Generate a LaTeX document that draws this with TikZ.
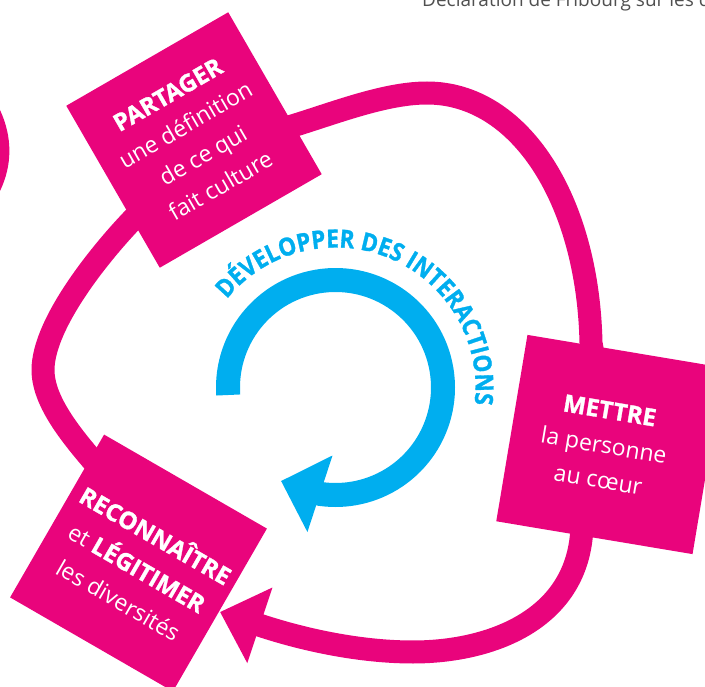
\documentclass[tikz,border=0pt]{standalone}
\usepackage{fontspec}
\setmainfont{Open Sans}
\newfontfamily\condfont[FakeStretch=0.9,FakeBold=1.2]{Open Sans}
\newfontfamily\heavyfont[FakeBold=1.2]{Open Sans}
\usetikzlibrary{arrows.meta,decorations.text,backgrounds}
\definecolor{pinkc}{RGB}{233,4,124}
\definecolor{bluec}{RGB}{0,174,239}
\definecolor{grayc}{RGB}{80,80,80}
\newcommand{\hv}[1]{{\heavyfont\bfseries\fontsize{24}{35}\selectfont #1}}
\begin{document}
\begin{tikzpicture}[x=1pt,y=1pt,
  sqbox/.style={fill=pinkc, inner sep=0pt, outer sep=0pt},
  sqtext/.style={text=white, align=center, inner sep=0pt, font=\fontsize{23}{35}\selectfont},
  loopline/.style={draw=pinkc, line width=23pt, line join=round},
  bluearc/.style={draw=bluec, line width=24pt}
]
\useasboundingbox (0,0) rectangle (705,-687);

% header (clipped at the top edge)
\node[anchor=base west, inner sep=0pt, text=grayc, font=\fontsize{19}{19}\selectfont] (hdr) at (422,-6.5) {Déclaration de Fribourg sur les droits culturels};

% squares
\node[sqbox, minimum size=187pt, rotate=30] (partager) at (194,-140) {};
\node[sqbox, minimum width=199pt, minimum height=189pt, rotate=-9.5] (mettre) at (610,-444.5) {};
\node[sqbox, minimum size=188pt, rotate=-30] (reconnaitre) at (138.5,-563) {};

\node[sqtext, rotate=30] (partagertxt) at (partager.center) {\hv{PARTAGER}\\une définition\\de ce qui\\fait culture};
\node[sqtext, rotate=-9.5] (mettretxt) at (604,-445) {\hv{METTRE}\\la personne\\au cœur};
\node[sqtext, rotate=-30, font=\fontsize{23}{37}\selectfont] (reconnaitretxt) at (138,-566) {\hv{RECONNAÎTRE}\\et \hv{LÉGITIMER}\\les diversités};

% pink loop behind the squares
\coordinate (rtip) at (220,-612);
\begin{scope}[on background layer]
\fill[pinkc] (0,-110) .. controls (12.5,-137) and (12.5,-165) .. (0,-191) -- cycle;
\draw[loopline] (partager.center) -- (275,-131)
  .. controls (323,-118) and (380,-93) .. (427,-93)
  .. controls (520,-93) and (588,-200) .. (591,-343)
  -- (mettre.center);
\draw[loopline, -{Triangle[length=42pt,width=77pt]}] (mettre.center) -- (582,-525)
  .. controls (580,-620) and (490,-652) .. (413,-652)
  .. controls (360,-652) and (305,-640) .. (262,-626)
  -- (rtip);
\draw[loopline] (reconnaitre.center) -- (118,-490)
  .. controls (89,-455) and (43,-410) .. (43,-370)
  .. controls (43,-322) and (105,-247) .. (140,-212)
  -- (partager.center);
\end{scope}

% blue circular arrow
\coordinate (bc) at (335.5,-387.5);
\coordinate (btip) at (281,-481);
\draw[bluearc, -{Triangle[length=41pt,width=78pt]}] ([shift={(184:107.5)}]bc) arc[start angle=184, end angle=-98, radius=107.5] -- (btip);
\path[decorate, decoration={text along path, text color=bluec, text align=center,
  text={|\condfont\bfseries\fontsize{25}{25}\selectfont|DÉVELOPPER DES INTERACTIONS}}]
  ([shift={(143:140)}]bc) arc[start angle=143, end angle=-9, radius=140];
\end{tikzpicture}
\end{document}
